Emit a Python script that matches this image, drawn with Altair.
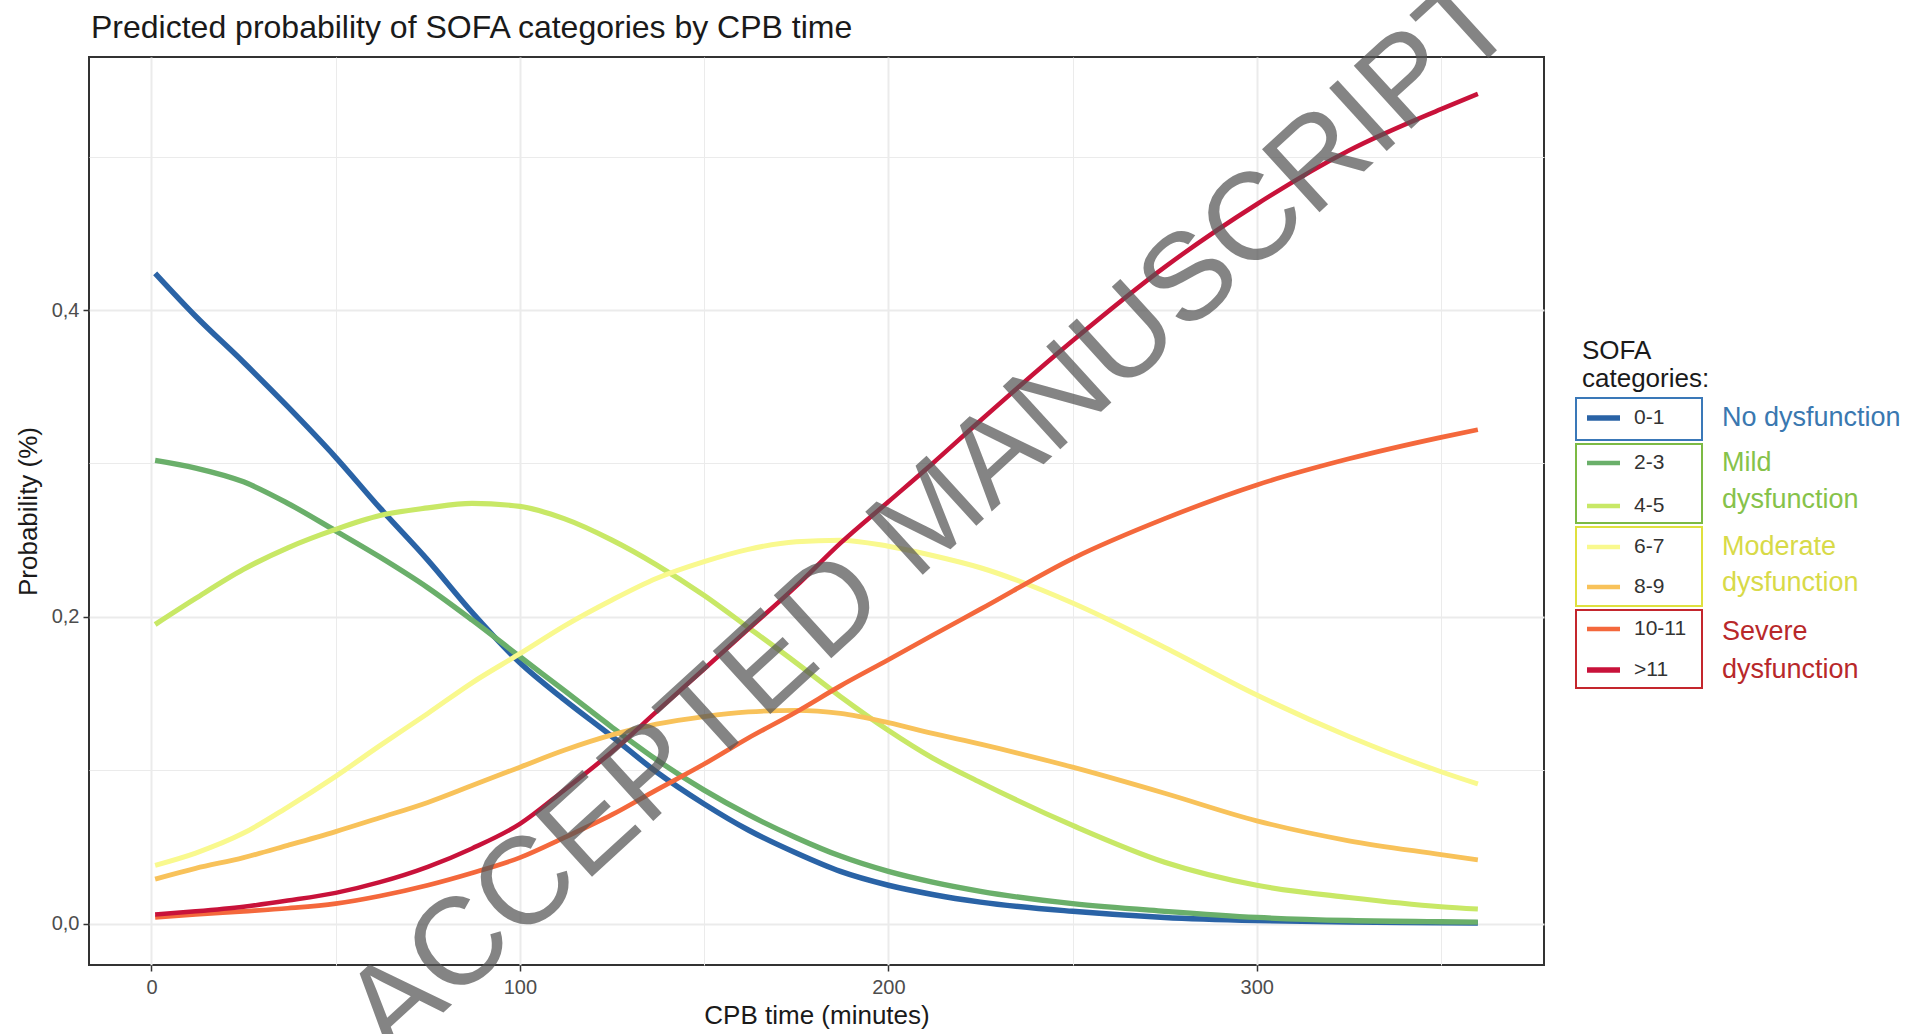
import altair as alt
import pandas as pd

FONT = "Liberation Sans"

# ---------------- data ----------------
cpb_minutes = [1, 12, 25, 37, 50, 62, 75, 87, 100, 112, 125, 137, 150, 162, 175, 187,
               200, 212, 225, 250, 275, 300, 325, 350, 360]

categories = ["0-1", "2-3", "4-5", "6-7", "8-9", "10-11", ">11"]

p_0_1 = [0.424, 0.396, 0.366, 0.337, 0.304, 0.271, 0.237, 0.203, 0.170, 0.146, 0.122, 0.099, 0.078,
         0.061, 0.046, 0.034, 0.025, 0.019, 0.014, 0.008, 0.004, 0.002, 0.001, 0.0006, 0.0004]
p_2_3 = [0.302, 0.297, 0.288, 0.274, 0.256, 0.239, 0.219, 0.198, 0.174, 0.152, 0.128, 0.107, 0.087,
         0.071, 0.056, 0.044, 0.034, 0.027, 0.021, 0.013, 0.008, 0.004, 0.002, 0.0012, 0.001]
p_4_5 = [0.195, 0.212, 0.231, 0.245, 0.257, 0.266, 0.271, 0.274, 0.272, 0.264, 0.250, 0.234, 0.214,
         0.193, 0.170, 0.148, 0.126, 0.108, 0.092, 0.064, 0.040, 0.025, 0.017, 0.011, 0.0095]
p_6_7 = [0.038, 0.046, 0.059, 0.076, 0.096, 0.116, 0.137, 0.157, 0.176, 0.194, 0.211, 0.225, 0.236,
         0.244, 0.249, 0.250, 0.246, 0.240, 0.232, 0.209, 0.180, 0.149, 0.122, 0.099, 0.091]
p_8_9 = [0.029, 0.036, 0.043, 0.051, 0.060, 0.069, 0.079, 0.090, 0.102, 0.113, 0.123, 0.130, 0.135,
         0.138, 0.139, 0.137, 0.131, 0.124, 0.117, 0.102, 0.085, 0.067, 0.054, 0.045, 0.0415]
p_10_11 = [0.004, 0.006, 0.008, 0.010, 0.013, 0.018, 0.025, 0.033, 0.043, 0.056, 0.071, 0.087, 0.104,
           0.121, 0.138, 0.155, 0.172, 0.188, 0.205, 0.238, 0.264, 0.286, 0.303, 0.317, 0.322]
p_gt11 = [0.006, 0.008, 0.011, 0.015, 0.020, 0.027, 0.037, 0.049, 0.065, 0.087, 0.112, 0.138, 0.166,
          0.192, 0.220, 0.248, 0.275, 0.300, 0.328, 0.380, 0.428, 0.469, 0.504, 0.531, 0.541]

series = [p_0_1, p_2_3, p_4_5, p_6_7, p_8_9, p_10_11, p_gt11]

title_text = "Predicted probability of SOFA categories by CPB time"
groups = ["No dysfunction", "Mild\ndysfunction", "Moderate\ndysfunction", "Severe\ndysfunction"]
group_members = [["0-1"], ["2-3", "4-5"], ["6-7", "8-9"], ["10-11", ">11"]]

x_breaks = [0, 50, 100, 150, 200, 250, 300, 350]          # majors every 100, minors between
y_breaks = [0.0, 0.1, 0.2, 0.3, 0.4, 0.5]                 # majors every 0.2, minors between

# ---------------- styles ----------------
line_colors = ["#2a63a6", "#6aaf6a", "#c8e866", "#f9f98e", "#f8c25a", "#f4683c", "#c8123a"]
line_widths = [5.5, 4.5, 4.5, 4.5, 4.5, 4.5, 5.5]
group_box_colors = ["#3a78b8", "#7cba44", "#dfe03e", "#c4262d"]
group_text_colors = ["#3a78b0", "#86c24a", "#d8da48", "#b8282a"]

rows = []
for cat, vals in zip(categories, series):
    for xv, yv in zip(cpb_minutes, vals):
        rows.append({"cat": cat, "x": xv, "p": yv})
df = pd.DataFrame(rows)

# page layout (pixels)
OX, OY = 89, 57
W, H = 1455, 908

x_scale = alt.Scale(domain=[-16.95, 377.95], nice=False, zero=False)
y_scale = alt.Scale(domain=[-0.027, 0.565], nice=False, zero=False)

grid_color = "#ebebeb"
x_minor_test = "datum.value % 100 != 0"
y_minor_test = "round(datum.value * 10) % 2 == 1"

x_axis = alt.Axis(
    values=x_breaks, title="CPB time (minutes)", labelPadding=6, titlePadding=5,
    grid=True, gridColor=grid_color,
    gridWidth={"condition": {"test": x_minor_test, "value": 1}, "value": 2},
    tickOpacity={"condition": {"test": x_minor_test, "value": 0}, "value": 1},
    labelExpr="datum.value % 100 == 0 ? datum.label : ''",
)
y_axis = alt.Axis(
    values=y_breaks, title="Probability (%)", labelPadding=4, titlePadding=10,
    grid=True, gridColor=grid_color,
    gridWidth={"condition": {"test": y_minor_test, "value": 1}, "value": 2},
    tickOpacity={"condition": {"test": y_minor_test, "value": 0}, "value": 1},
    labelExpr="round(datum.value * 10) % 2 == 0 ? replace(format(datum.value, '.1f'), '.', ',') : ''",
)

lines = alt.Chart(df).mark_line(interpolate="monotone", strokeCap="butt").encode(
    x=alt.X("x:Q", scale=x_scale, axis=x_axis),
    y=alt.Y("p:Q", scale=y_scale, axis=y_axis),
    color=alt.Color("cat:N", scale=alt.Scale(domain=categories, range=line_colors), legend=None),
    strokeWidth=alt.StrokeWidth("cat:N", scale=alt.Scale(domain=categories, range=line_widths), legend=None),
    detail="cat:N",
)

one = pd.DataFrame({"k": [0]})

def text_at(s, x, y, size, color, align="left", baseline="middle"):
    return alt.Chart(one).mark_text(text=s, align=align, baseline=baseline, fontSize=size,
                                    color=color, font=FONT).encode(
        x=alt.value(x - OX), y=alt.value(y - OY))

def rule_at(x1, x2, y, color, w):
    return alt.Chart(one).mark_rule(color=color, strokeWidth=w).encode(
        x=alt.value(x1 - OX), x2=alt.value(x2 - OX), y=alt.value(y - OY))

def box_at(x1, x2, y1, y2, color):
    return alt.Chart(one).mark_rect(fillOpacity=0, stroke=color, strokeWidth=2).encode(
        x=alt.value(x1 - OX), x2=alt.value(x2 - OX), y=alt.value(y1 - OY), y2=alt.value(y2 - OY))

# chart title as a text mark placed above the panel
title_layer = text_at(title_text, 91, 28, 32, "#1a1a1a")

# legend (drawn by hand, with group boxes like the reference)
legend_layers = [
    text_at("SOFA", 1582, 351, 26, "#1a1a1a"),
    text_at("categories:", 1582, 379, 26, "#1a1a1a"),
]
row_y = [418, 463, 506, 547, 587, 629, 670]
box_y = [(398, 440), (444, 523), (527, 606), (610, 688)]
group_label_y = [[418], [463, 500], [547, 583], [632, 670]]
cat_index = {c: i for i, c in enumerate(categories)}
for gi, (gname, members) in enumerate(zip(groups, group_members)):
    y1, y2 = box_y[gi]
    legend_layers.append(box_at(1576, 1702, y1, y2, group_box_colors[gi]))
    for line_txt, ly in zip(gname.split("\n"), group_label_y[gi]):
        legend_layers.append(text_at(line_txt, 1722, ly, 27, group_text_colors[gi]))
    for m in members:
        i = cat_index[m]
        legend_layers.append(rule_at(1587, 1620, row_y[i], line_colors[i], line_widths[i]))
        legend_layers.append(text_at(m, 1634, row_y[i], 21, "#333333"))

watermark = alt.Chart(one).mark_text(
    text="ACCEPTED MANUSCRIPT", angle=317.6, fontSize=124, font=FONT, color="#555555",
    opacity=0.72, align="center", baseline="middle").encode(
    x=alt.value(931 - OX), y=alt.value(517 - OY))

chart = alt.layer(
    lines, title_layer, *legend_layers, watermark
).properties(
    width=W, height=H,
    background="white",
    autosize=alt.AutoSizeParams(type="none"),
    padding={"left": OX, "top": OY, "right": 1909 - OX - W, "bottom": 1034 - OY - H},
).configure_view(
    stroke="#333333", strokeWidth=2
).configure_axis(
    domain=False, tickColor="#333333", tickSize=6, tickWidth=1.5,
    labelFont=FONT, titleFont=FONT, labelFontSize=20, titleFontSize=26,
    labelColor="#4d4d4d", titleColor="#1a1a1a", titleFontWeight="normal"
)

chart.save("out.html", embed_options={"renderer": "svg", "actions": False})
